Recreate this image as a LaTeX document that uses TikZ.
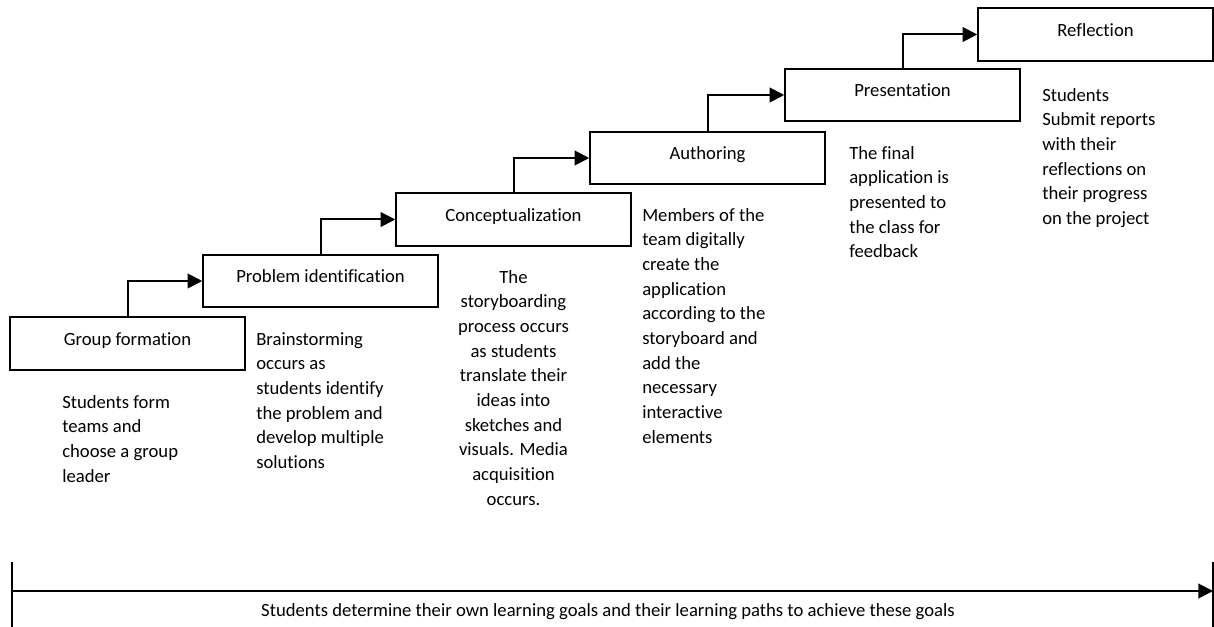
\documentclass[tikz,border=0pt]{standalone}
\usepackage{fontspec}
\setmainfont{Carlito}[Ligatures=NoCommon]
\usepackage{tikz}
\usetikzlibrary{arrows.meta,positioning}
\tikzstyle{stage}=[rectangle, draw=black, line width=1.4pt, minimum width=176pt,
  minimum height=39.5pt, inner sep=0pt, text height=9pt, text depth=6pt]
\tikzstyle{arrow}=[-{Triangle[length=11pt,width=11pt]}, line width=1.5pt]

\begin{document}
\begin{tikzpicture}[x=0.75pt,y=-0.75pt,
  font=\fontsize{14pt}{18.5pt}\selectfont,
  desc/.style={anchor=north west,inner sep=0pt,align=left}]
\useasboundingbox (0,0) rectangle (1214,627);
% stages
\node[stage] (grp) at (127.5,343.5) {Group formation};
\node[stage] (prob) at (320.5,281) {Problem identification};
\node[stage] (conc) at (513.5,219.5) {Conceptualization};
\node[stage] (auth) at (707.5,158) {Authoring};
\node[stage] (pres) at (902.5,95) {Presentation};
\node[stage] (refl) at (1095.5,34.5) {Reflection};
\draw[arrow] (grp.north) |- (prob.west);
\draw[arrow] (prob.north) |- (conc.west);
\draw[arrow] (conc.north) |- (auth.west);
\draw[arrow] (auth.north) |- (pres.west);
\draw[arrow] (pres.north) |- (refl.west);
% descriptions
\node[desc] (dgrp) at (62,395) {Students form\\teams and\\choose a group\\leader};
\node[desc] (dprob) at (256,332) {Brainstorming\\occurs as\\students identify\\the problem and\\develop multiple\\solutions};
\node[desc,anchor=north,align=center] (dconc) at (513.5,270) {The\\storyboarding\\process occurs\\as students\\translate their\\ideas into\\sketches and\\visuals. Media\\acquisition\\occurs.};
\node[desc] (dauth) at (642,208) {Members of the\\team digitally\\create the\\application\\according to the\\storyboard and\\add the\\necessary\\interactive\\elements};
\node[desc] (dpres) at (849,146) {The final\\application is\\presented to\\the class for\\feedback};
\node[desc] (drefl) at (1042,88) {Students\\Submit reports\\with their\\reflections on\\their progress\\on the project};
% time line
\coordinate (lt) at (12,562); \coordinate (lb) at (12,627);
\coordinate (rt) at (1213,562); \coordinate (rb) at (1213,627);
\coordinate (ls) at (12,591); \coordinate (re) at (1213,591);
\draw[line width=1.5pt] (lt)--(lb); \draw[line width=1.5pt] (rt)--(rb);
\draw[arrow] (ls)--(re);
\node (goal) at (608,612) {Students determine their own learning goals and their learning paths to achieve these goals};
\end{tikzpicture}
\end{document}
